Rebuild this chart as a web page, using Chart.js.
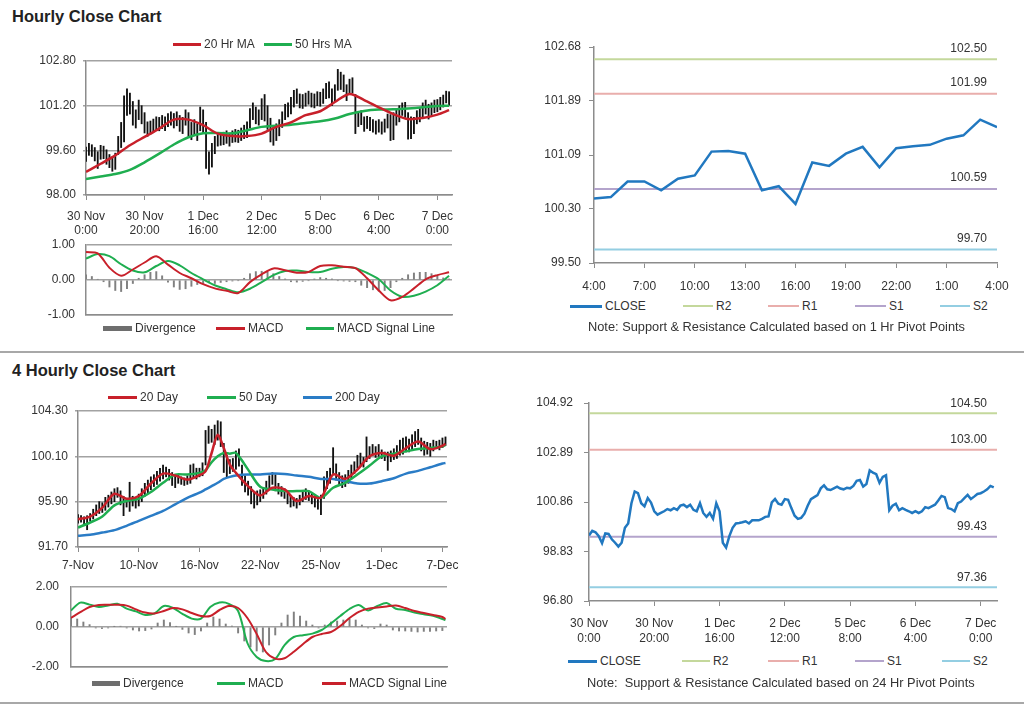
<!DOCTYPE html>
<html>
<head>
<meta charset="utf-8">
<script src="https://cdn.jsdelivr.net/npm/chart.js@4.4.1/dist/chart.umd.min.js"></script>
<style>
  body { margin: 0; background: #fff; width: 1024px; height: 706px; overflow: hidden; position: relative;
         font-family: "Liberation Sans", Arial, sans-serif; color: #333; }
  canvas { position: absolute; }
  .title { position: absolute; left: 12px; font-weight: bold; font-size: 16.5px; line-height: 20px; color: #222; transform: translateY(-50%); white-space: nowrap; }
  .lg { position: absolute; font-size: 12px; line-height: 14px; white-space: pre; transform: translateY(-50%); }
  .note { font-size: 12.8px; }
  .sw { position: absolute; }
  .sep { position: absolute; left: 0; width: 1024px; height: 2px; background: #a8a8a8; }
</style>
</head>
<body>
<div class="title" style="top:16px">Hourly Close Chart</div>
<div class="title" style="top:370px">4 Hourly Close Chart</div>
<div class="sep" style="top:351px"></div>
<div class="sep" style="top:702px"></div>
<script>
// ---- hourly data (30 Nov 0:00 -> 7 Dec ~4:00), one value per hour ----
const hrTickIdx = [0, 20, 40, 60, 80, 100, 120];
const hrTickLabels = [['30 Nov', '0:00'], ['30 Nov', '20:00'], ['1 Dec', '16:00'], ['2 Dec', '12:00'],
                      ['5 Dec', '8:00'], ['6 Dec', '4:00'], ['7 Dec', '0:00']];
const hrClose = [99.49,99.68,99.62,99.46,99.17,99.57,99.55,99.33,99.19,99.03,
  99.19,99.80,99.98,100.81,101.29,101.22,100.81,100.68,101.02,100.84,
  100.48,100.34,100.41,100.48,100.57,100.52,100.61,100.54,100.71,100.75,
  100.65,100.75,100.54,100.48,100.81,100.41,100.25,100.41,100.17,100.81,
  100.48,99.19,98.99,99.46,99.80,99.98,100.00,100.03,100.07,99.98,
  100.11,100.11,100.11,100.17,100.25,100.27,100.84,100.98,100.79,100.75,
  100.98,100.95,100.61,100.30,100.17,100.21,100.38,100.71,100.98,101.06,
  101.14,101.42,101.54,101.38,101.35,101.42,101.49,101.41,101.38,101.44,
  101.42,101.52,101.73,101.76,101.49,101.60,102.16,102.06,102.00,101.65,
  101.89,101.96,100.52,100.71,100.79,100.52,100.61,100.54,100.48,100.41,
  100.48,100.41,100.48,100.65,100.61,100.68,100.75,100.92,101.11,101.06,
  100.61,100.57,100.48,100.81,100.88,101.02,101.15,100.98,101.08,101.19,
  101.22,101.29,101.38,101.52,101.46];
const hrHigh = [99.72,99.85,99.80,99.70,99.55,99.78,99.75,99.62,99.45,99.35,
  99.50,100.10,100.60,101.55,101.80,101.65,101.35,101.05,101.40,101.20,
  100.95,100.62,100.65,100.72,100.80,100.78,100.85,100.80,100.92,100.98,
  100.92,100.98,100.85,100.78,101.05,100.95,100.60,100.70,100.55,101.15,
  101.05,100.60,99.55,99.85,100.10,100.20,100.22,100.25,100.30,100.22,
  100.30,100.35,100.32,100.40,100.50,100.62,101.10,101.30,101.15,101.05,
  101.45,101.60,101.20,100.75,100.45,100.55,100.70,100.98,101.25,101.30,
  101.50,101.75,101.80,101.62,101.60,101.65,101.72,101.65,101.62,101.70,
  101.68,101.80,102.00,102.05,101.80,101.95,102.50,102.40,102.30,101.95,
  102.15,102.20,101.60,100.98,101.02,100.80,100.82,100.78,100.70,100.65,
  100.70,100.62,100.72,100.90,100.88,100.95,101.05,101.20,101.30,101.32,
  100.95,100.80,100.78,101.02,101.10,101.30,101.40,101.25,101.30,101.40,
  101.42,101.50,101.58,101.72,101.70];
const hrLow = [99.20,99.42,99.38,99.22,98.95,99.28,99.30,99.10,98.98,98.85,
  98.92,99.45,99.70,99.90,100.85,100.90,100.50,100.40,100.70,100.55,
  100.22,100.10,100.18,100.25,100.32,100.30,100.38,100.30,100.45,100.50,
  100.40,100.48,100.28,100.20,100.50,100.10,99.98,100.15,99.95,100.30,
  100.20,98.95,98.75,99.00,99.48,99.75,99.78,99.80,99.85,99.75,
  99.88,99.90,99.88,99.95,100.02,100.05,100.40,100.70,100.55,100.50,
  100.70,100.65,100.35,99.90,99.78,99.95,100.12,100.42,100.70,100.80,
  100.90,101.15,101.28,101.12,101.10,101.18,101.25,101.15,101.12,101.20,
  101.18,101.28,101.45,101.48,101.20,101.35,101.75,101.78,101.70,101.38,
  101.62,101.65,100.20,100.45,100.52,100.28,100.38,100.30,100.25,100.18,
  100.25,100.18,100.25,100.40,99.95,99.98,100.50,100.62,100.85,100.78,
  100.00,100.02,100.20,100.55,100.62,100.78,100.90,100.72,100.85,100.95,
  100.98,101.05,101.15,101.30,101.22];
const hrMaIdx = [0,5,10,15,20,25,30,35,40,45,50,55,60,65,70,75,80,85,90,95,100,105,110,115,120,124];
const hrMa20 = [98.83,99.12,99.42,99.78,100.08,100.38,100.70,100.70,100.50,100.20,100.11,100.11,100.20,
  100.44,100.60,100.86,101.00,101.33,101.62,101.40,101.14,100.90,100.72,100.76,100.88,101.04];
const hrMa50 = [98.57,98.66,98.75,98.90,99.17,99.48,99.81,100.07,100.21,100.22,100.21,100.32,100.44,
  100.48,100.52,100.58,100.64,100.74,100.90,101.01,101.06,101.07,101.10,101.14,101.19,101.20];
const hrMacdIdx = [0,4,8,12,16,20,24,28,32,36,40,44,48,52,56,60,64,68,72,76,80,84,88,92,96,100,104,108,112,116,120,124];
const hrMacd = [0.80,0.76,0.35,0.12,0.30,0.50,0.68,0.44,0.20,0.05,-0.12,-0.24,-0.31,-0.37,-0.06,0.16,
  0.33,0.28,0.21,0.23,0.40,0.42,0.38,0.34,0.05,-0.30,-0.58,-0.48,-0.24,0.02,0.14,0.22];
const hrSignal = [0.61,0.74,0.68,0.45,0.27,0.22,0.40,0.54,0.42,0.20,0.02,-0.15,-0.26,-0.35,-0.25,-0.06,
  0.14,0.26,0.27,0.23,0.23,0.32,0.37,0.34,0.20,0.02,-0.30,-0.48,-0.45,-0.33,-0.15,0.12];
// divergence, one bar every 2 hours
const hrDivergence = [0.15,0.10,0.02,-0.05,-0.20,-0.30,-0.33,-0.25,-0.10,0.05,0.15,0.22,0.24,0.12,-0.06,
  -0.20,-0.27,-0.25,-0.18,-0.13,-0.10,-0.08,-0.10,-0.07,-0.05,-0.03,-0.02,0.05,0.18,0.24,0.25,0.22,0.18,
  0.10,0.03,-0.05,-0.06,-0.04,-0.02,0.03,0.07,0.05,0.03,-0.02,-0.03,-0.04,-0.05,-0.15,-0.22,-0.28,-0.32,
  -0.30,-0.22,-0.05,0.05,0.15,0.20,0.22,0.22,0.18,0.12,0.06,0.03];

// ---- last 24 hours vs 1 hr pivots ----
const lastDayLabels = ['4:00','7:00','10:00','13:00','16:00','19:00','22:00','1:00','4:00'];
const lastDayClose = [100.45,100.47,100.70,100.70,100.57,100.74,100.79,101.14,101.15,101.11,100.57,100.63,
  100.37,100.98,100.93,101.11,101.21,100.91,101.19,101.22,101.24,101.33,101.38,101.61,101.50];
const pivotNames = ['R2', 'R1', 'S1', 'S2'];
const hrPivots = [102.50, 101.99, 100.59, 99.70];
const dayPivots = [104.50, 103.00, 99.43, 97.36];

// ---- 4 hourly data (7 Nov -> 7 Dec) ----
const h4TickIdx = [0, 20, 40, 60, 80, 100, 120];
const h4TickLabels = ['7-Nov', '10-Nov', '16-Nov', '22-Nov', '25-Nov', '1-Dec', '7-Dec'];
const h4Low = [93.9,94.0,93.8,93.3,94.1,94.3,94.6,94.8,94.9,95.1,
  95.4,95.7,95.9,96.3,95.6,94.6,95.4,95.0,95.5,95.3,
  95.5,95.9,96.4,96.7,97.0,97.3,97.5,97.8,98.0,98.2,
  97.9,97.4,97.2,97.6,97.5,97.4,97.5,97.6,98.1,98.0,
  98.2,98.3,99.3,101.3,101.4,101.2,101.6,101.0,98.6,98.2,
  98.5,98.7,98.9,99.2,97.4,96.8,96.5,95.7,95.3,95.6,
  95.9,96.2,96.6,97.0,97.5,96.9,96.6,96.4,96.2,95.7,
  95.4,95.5,95.3,95.6,95.9,96.1,96.0,95.7,95.4,95.2,
  94.7,96.2,97.1,97.6,98.5,97.9,97.5,97.2,97.3,97.6,
  98.0,98.5,99.0,99.2,99.1,99.6,99.9,100.2,100.0,100.1,
  99.9,99.7,98.8,99.6,99.8,99.9,100.2,100.3,100.5,100.5,
  100.8,101.0,101.2,100.6,100.2,100.3,100.1,100.6,100.8,100.7,
  100.9,101.1];
const h4High = [94.7,94.6,94.5,94.6,94.8,95.2,95.6,95.9,95.8,96.3,
  96.5,96.8,97.1,97.2,96.9,96.4,96.2,97.7,96.4,96.2,
  96.6,97.1,97.6,97.9,98.2,98.4,98.7,99.0,99.3,99.1,
  98.9,98.6,98.3,98.4,98.2,98.1,98.3,99.3,99.4,99.0,
  99.0,99.5,102.5,102.9,102.6,103.0,103.4,103.3,101.3,100.2,
  99.8,99.9,100.6,100.8,99.3,98.3,97.8,97.3,96.8,96.9,
  97.0,97.2,97.8,98.3,98.6,98.4,97.6,97.3,97.1,96.7,
  96.4,96.3,96.2,96.5,96.9,97.1,96.9,96.7,96.4,96.1,
  96.5,98.2,98.7,99.0,100.9,99.4,98.6,98.3,98.4,98.8,
  99.3,99.6,100.2,100.4,100.0,101.9,101.0,101.2,101.0,101.2,
  100.7,100.5,100.5,100.6,100.8,101.1,101.6,101.8,101.9,101.7,
  102.1,102.4,102.6,101.8,101.5,101.4,101.3,101.6,101.5,101.6,
  101.8,101.9];
const h4MaIdx = [0,4,8,12,16,20,24,28,32,36,40,42,44,46,48,50,52,56,60,64,68,72,76,80,84,88,92,96,100,104,108,112,116,120,121];
const h4Ma20 = [94.27,94.52,95.35,96.63,96.17,96.42,97.58,98.50,98.32,97.95,98.35,98.72,100.41,102.09,100.87,
  99.33,98.57,97.34,96.48,97.19,97.03,95.96,96.42,96.27,98.41,98.01,98.87,100.10,100.41,100.16,100.87,
  101.48,100.77,101.08,101.27];
const h4Ma50 = [93.50,93.97,94.52,95.56,95.96,96.17,96.79,97.65,98.41,98.41,98.57,98.81,99.55,100.10,100.41,
  100.35,100.41,98.87,97.28,97.03,96.88,96.88,96.88,96.26,97.19,97.65,98.41,99.24,100.10,100.35,100.56,
  100.77,100.87,101.02,101.17];
const h4Ma200 = [92.74,92.83,93.04,93.26,93.66,94.12,94.58,95.04,95.65,96.26,96.73,97.03,97.34,97.65,98.01,
  98.20,98.32,98.41,98.41,98.50,98.47,98.32,98.20,98.01,98.01,97.80,97.58,97.58,97.80,98.07,98.50,
  98.75,99.09,99.43,99.49];
const h4MacdIdx = [0,3,6,9,12,15,18,21,24,27,30,33,36,39,42,45,48,51,54,57,60,63,66,69,72,75,78,81,84,87,90,93,96,99,102,105,108,111,114,117,120,121];
const h4Macd = [0.83,1.22,1.12,1.00,1.08,1.16,0.92,0.78,0.60,0.68,1.05,0.95,0.66,0.42,0.42,1.00,1.22,1.16,
  0.80,-0.80,-1.50,-1.70,-1.60,-0.91,-0.50,-0.41,-0.33,-0.15,0.18,0.55,0.90,1.10,0.83,1.05,1.20,0.91,
  0.85,0.72,0.64,0.56,0.40,0.35];
const h4Signal = [0.46,0.74,1.00,1.10,1.11,1.11,1.07,0.88,0.72,0.68,0.80,0.95,0.88,0.70,0.55,0.55,0.85,1.05,
  0.95,0.45,-0.35,-1.25,-1.58,-1.56,-1.24,-0.85,-0.50,-0.35,-0.25,0.05,0.45,0.76,0.92,0.98,1.03,1.07,
  0.95,0.80,0.70,0.60,0.50,0.40];
// divergence, one bar every 2 periods
const h4Divergence = [0.45,0.40,0.25,0.12,-0.05,-0.08,-0.05,0.02,0.04,-0.05,-0.15,-0.20,-0.18,-0.10,0.20,
  0.35,0.22,0.02,-0.12,-0.30,-0.38,-0.20,0.20,0.50,0.40,0.15,0.05,-0.30,-0.70,-1.00,-1.20,-1.25,-0.90,
  -0.40,0.20,0.60,0.75,0.55,0.30,0.10,-0.05,0.10,0.25,0.30,0.35,0.40,0.35,0.10,-0.05,-0.08,0.15,0.10,
  -0.15,-0.20,-0.20,-0.22,-0.25,-0.22,-0.22,-0.20,-0.18];

// ---- styling ----
const RED = '#c8202a', GREEN = '#1fae50', BLUE = '#2a7cc6', CLOSE_BLUE = '#2178c0', DIV_GRAY = '#808080';
const pivotColors = ['#c4d89c', '#e9aeac', '#b4a4cc', '#94cee2'];
const GRID = '#a2a2a2', AXIS = '#8c8c8c';
const FONT = '"Liberation Sans", Arial, sans-serif';
const PAD_R = 25;       // right room so edge labels never squeeze the plot
const HALF_LABEL = 7;   // half of a 14px y tick label line

Chart.defaults.font.family = FONT;
Chart.defaults.font.size = 12;
Chart.defaults.color = '#333';

const pivotLabels = {
  id: 'pivotLabels',
  afterDatasetsDraw(chart, args, opts) {
    const {ctx, chartArea, scales} = chart;
    ctx.save();
    ctx.font = '12px ' + FONT;
    ctx.fillStyle = '#333';
    ctx.textAlign = 'right';
    ctx.textBaseline = 'middle';
    opts.values.forEach(v => {
      ctx.fillText(v.toFixed(2), chartArea.right - opts.inset, scales.y.getPixelForValue(v) - opts.lift);
    });
    ctx.restore();
  }
};

function fixedTicks(vals) {
  return s => { s.ticks = vals.map(v => ({value: v})); };
}

function xAxis(max, tickIdx, labels, tick, pad, lineH) {
  return {
    type: 'linear', min: 0, max: max, offset: false,
    afterBuildTicks: fixedTicks(tickIdx),
    ticks: {autoSkip: false, maxRotation: 0, minRotation: 0, padding: pad, display: !!labels,
            font: {size: 12, lineHeight: lineH || 1.2},
            callback: (v, i) => labels ? labels[i] : ''},
    grid: {offset: false, drawOnChartArea: false, drawTicks: tick > 0, tickLength: tick, color: AXIS, lineWidth: 1},
    border: {display: true, color: AXIS, width: 1.5}
  };
}

function yAxis(min, max, vals, gridOn, tick, pad) {
  return {
    type: 'linear', min: min, max: max,
    afterBuildTicks: fixedTicks(vals),
    ticks: {padding: pad, callback: v => v.toFixed(2), font: {size: 12, lineHeight: '14px'}},
    grid: {drawOnChartArea: gridOn, drawTicks: tick > 0, tickLength: tick, color: gridOn ? GRID : AXIS, lineWidth: gridOn ? 1.5 : 1},
    border: {display: true, color: AXIS, width: 1.5}
  };
}

// place a canvas so that the plot area lands on the given pixel box
function makeChart(plot, yW, xH, cfg) {
  const o = cfg.options;
  const edge = HALF_LABEL + o.scales.y.ticks.padding;   // room Chart.js keeps for end labels
  const top = edge, bottom = Math.max(xH, edge);
  const c = document.createElement('canvas');
  const w = plot.r - plot.l + yW + PAD_R, h = plot.b - plot.t + top + bottom;
  c.width = w; c.height = h;
  c.style.left = (plot.l - yW) + 'px';
  c.style.top = (plot.t - top) + 'px';
  c.style.width = w + 'px';
  c.style.height = h + 'px';
  document.body.appendChild(c);
  o.responsive = false;
  o.animation = false;
  o.layout = {padding: {top: top, right: PAD_R, left: 0, bottom: 0}, autoPadding: false};
  o.plugins = Object.assign({legend: {display: false}, tooltip: {enabled: false}}, o.plugins || {});
  o.scales.x.afterFit = s => { s.height = xH; };
  o.scales.y.afterFit = s => { s.width = yW; };
  return new Chart(c, cfg);
}

const pts = (xs, ys) => ys.map((y, i) => ({x: xs[i], y: y}));
const line = (data, color, width, tension, order) =>
  ({type: 'line', data: data, borderColor: color, borderWidth: width, pointRadius: 0, tension: tension, order: order});
const hlBars = (lo, hi) => ({type: 'bar', data: hi.map((h, i) => ({x: i, y: [lo[i], h]})),
  backgroundColor: '#111', barThickness: 1.2, order: 5});
const divBars = (vals) => ({type: 'bar', data: vals.map((v, i) => ({x: i * 2, y: v})),
  backgroundColor: DIV_GRAY, barThickness: 1.3, order: 5});
const pivotLines = (vals, xmax) => vals.map((v, i) =>
  line([{x: 0, y: v}, {x: xmax, y: v}], pivotColors[i], 2, 0, 3));

// ---- Hourly price ----
makeChart({l: 86, t: 61, r: 452, b: 195}, 66, 45, {
  type: 'bar',
  data: {datasets: [
    hlBars(hrLow, hrHigh),
    line(pts(hrMaIdx, hrMa20), RED, 2.5, 0.3, 1),
    line(pts(hrMaIdx, hrMa50), GREEN, 2.5, 0.3, 2)
  ]},
  options: {scales: {
    x: xAxis(125, hrTickIdx, hrTickLabels, 5, 10, 1.17),
    y: yAxis(98, 102.8, [98, 99.6, 101.2, 102.8], true, 3, 7)
  }}
});

// ---- Hourly MACD ----
makeChart({l: 86, t: 245, r: 452, b: 315}, 66, 4, {
  type: 'bar',
  data: {datasets: [
    divBars(hrDivergence),
    line(pts(hrMacdIdx, hrMacd), RED, 2, 0.3, 1),
    line(pts(hrMacdIdx, hrSignal), GREEN, 2, 0.3, 2)
  ]},
  options: {scales: {
    x: xAxis(125, hrTickIdx, null, 0, 0),
    y: yAxis(-1, 1, [-1, 0, 1], true, 0, 11)
  }}
});

// ---- last 24 hours vs 1 hr pivots ----
makeChart({l: 594, t: 47, r: 997, b: 263}, 64, 30, {
  type: 'line',
  data: {datasets: [
    line(lastDayClose.map((v, i) => ({x: i, y: v})), CLOSE_BLUE, 2.5, 0, 1),
    ...pivotLines(hrPivots, 24)
  ]},
  options: {
    plugins: {pivotLabels: {values: hrPivots, inset: 10, lift: 11}},
    scales: {
      x: xAxis(24, [0, 3, 6, 9, 12, 15, 18, 21, 24], lastDayLabels, 5, 11),
      y: yAxis(99.5, 102.68, [99.5, 100.3, 101.09, 101.89, 102.68], false, 5, 8)
    }
  },
  plugins: [pivotLabels]
});

// ---- 4 Hourly price ----
makeChart({l: 78, t: 411, r: 447, b: 547}, 58, 30, {
  type: 'bar',
  data: {datasets: [
    hlBars(h4Low, h4High),
    line(pts(h4MaIdx, h4Ma20), RED, 2.5, 0.3, 1),
    line(pts(h4MaIdx, h4Ma50), GREEN, 2.5, 0.3, 2),
    line(pts(h4MaIdx, h4Ma200), BLUE, 2.5, 0.3, 3)
  ]},
  options: {scales: {
    x: xAxis(121.5, h4TickIdx, h4TickLabels, 5, 6),
    y: yAxis(91.7, 104.3, [91.7, 95.9, 100.1, 104.3], true, 3, 7)
  }}
});

// ---- 4 Hourly MACD ----
makeChart({l: 71, t: 587, r: 447, b: 667}, 51, 4, {
  type: 'bar',
  data: {datasets: [
    divBars(h4Divergence),
    line(pts(h4MacdIdx, h4Signal), RED, 2, 0.3, 1),
    line(pts(h4MacdIdx, h4Macd), GREEN, 2, 0.3, 2)
  ]},
  options: {scales: {
    x: xAxis(121.5, h4TickIdx, null, 0, 0),
    y: yAxis(-2, 2, [-2, 0, 2], true, 0, 12)
  }}
});

// ---- hourly close vs 24 hr pivots ----
makeChart({l: 589, t: 403, r: 997, b: 601}, 59, 45, {
  type: 'line',
  data: {datasets: [
    line(hrClose.map((v, i) => ({x: i, y: v})), CLOSE_BLUE, 2.5, 0, 1),
    ...pivotLines(dayPivots, 125)
  ]},
  options: {
    plugins: {pivotLabels: {values: dayPivots, inset: 10, lift: 10}},
    scales: {
      x: xAxis(125, hrTickIdx, hrTickLabels, 5, 10, 1.25),
      y: yAxis(96.8, 104.92, [96.8, 98.83, 100.86, 102.89, 104.92], false, 5, 11)
    }
  },
  plugins: [pivotLabels]
});

// ---- legends (HTML) ----
function legend(y, items) {
  items.forEach(([x, w, kind, color, text]) => {
    const hh = kind === 'box' ? 5 : (kind === 'thick' ? 3 : 2);
    const s = document.createElement('div');
    s.className = 'sw';
    s.style.cssText = 'left:' + x + 'px;top:' + (y - hh / 2) + 'px;width:' + w + 'px;height:' + hh + 'px;background:' + color;
    document.body.appendChild(s);
    const t = document.createElement('div');
    t.className = 'lg';
    t.style.left = (x + w + 3) + 'px';
    t.style.top = y + 'px';
    t.textContent = text;
    document.body.appendChild(t);
  });
}
function note(x, y, text) {
  const t = document.createElement('div');
  t.className = 'lg note';
  t.style.left = x + 'px';
  t.style.top = y + 'px';
  t.textContent = text;
  document.body.appendChild(t);
}

legend(44, [[173, 28, 'thick', RED, '20 Hr MA'], [264, 28, 'thick', GREEN, '50 Hrs MA']]);
legend(328, [[103, 29, 'box', '#6e6e6e', 'Divergence'], [216, 29, 'thick', RED, 'MACD'], [306, 28, 'thick', GREEN, 'MACD Signal Line']]);
legend(306, [[570, 32, 'thick', CLOSE_BLUE, 'CLOSE'], [683, 30, 'line', pivotColors[0], pivotNames[0]],
             [768, 31, 'line', pivotColors[1], pivotNames[1]], [855, 31, 'line', pivotColors[2], pivotNames[2]],
             [940, 30, 'line', pivotColors[3], pivotNames[3]]]);
note(588, 327, 'Note: Support & Resistance Calculated based on 1 Hr Pivot Points');

legend(397, [[108, 29, 'thick', RED, '20 Day'], [207, 29, 'thick', GREEN, '50 Day'], [303, 29, 'thick', BLUE, '200 Day']]);
legend(683, [[92, 28, 'box', '#6e6e6e', 'Divergence'], [217, 28, 'thick', GREEN, 'MACD'], [322, 24, 'thick', RED, 'MACD Signal Line']]);
legend(661, [[568, 29, 'thick', CLOSE_BLUE, 'CLOSE'], [682, 28, 'line', pivotColors[0], pivotNames[0]],
             [768, 31, 'line', pivotColors[1], pivotNames[1]], [855, 29, 'line', pivotColors[2], pivotNames[2]],
             [942, 28, 'line', pivotColors[3], pivotNames[3]]]);
note(587, 683, 'Note:  Support & Resistance Calculated based on 24 Hr Pivot Points');
</script>
</body>
</html>
